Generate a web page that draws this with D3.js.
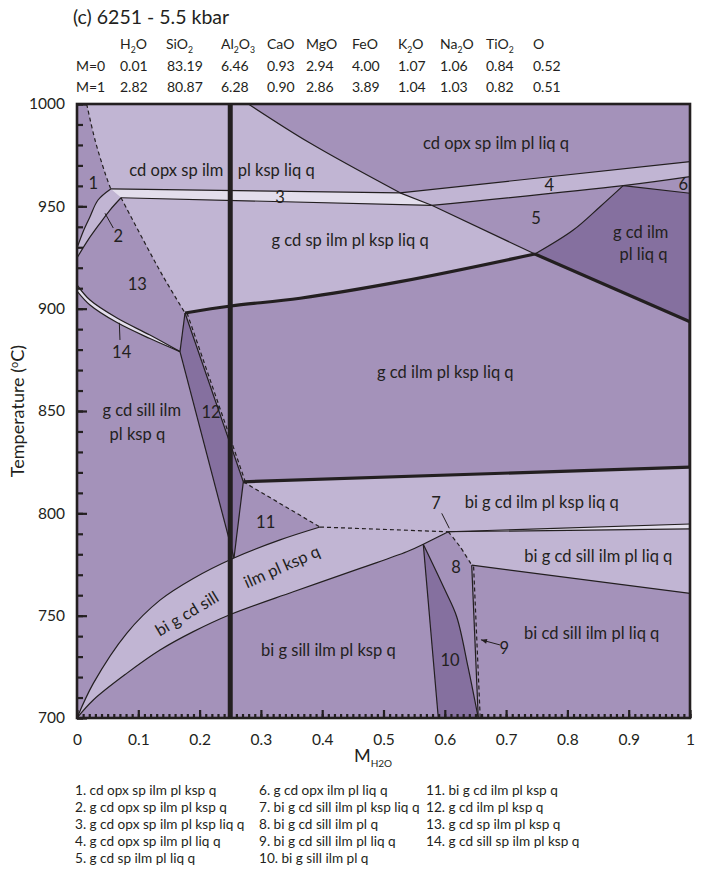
<!DOCTYPE html>
<html><head><meta charset="utf-8">
<script src="https://cdn.jsdelivr.net/npm/d3@7"></script>
<style>
body{margin:0;background:#fff}
svg{display:block}
text{font-family:Lato,"Open Sans",sans-serif;fill:#231f20}
</style>
</head><body>
<svg id="chart" width="706" height="879"></svg>
<script>
// ---------- data ----------
const title = "(c) 6251 - 5.5 kbar";
const oxides = ["H2O","SiO2","Al2O3","CaO","MgO","FeO","K2O","Na2O","TiO2","O"];
const compM0 = ["0.01","83.19","6.46","0.93","2.94","4.00","1.07","1.06","0.84","0.52"];
const compM1 = ["2.82","80.87","6.28","0.90","2.86","3.89","1.04","1.03","0.82","0.51"];
const xTickValues = [0,0.1,0.2,0.3,0.4,0.5,0.6,0.7,0.8,0.9,1];
const xTickLabels = ["0","0.1","0.2","0.3","0.4","0.5","0.6","0.7","0.8","0.9","1"];
const yTickValues = [700,750,800,850,900,950,1000];
const bulkM = 0.25;
const legendItems = [
  "1. cd opx sp ilm pl ksp q","2. g cd opx sp ilm pl ksp q","3. g cd opx sp ilm pl ksp liq q",
  "4. g cd opx sp ilm pl liq q","5. g cd sp ilm pl liq q","6. g cd opx ilm pl liq q",
  "7. bi g cd sill ilm pl ksp liq q","8. bi g cd sill ilm pl q","9. bi g cd sill ilm pl liq q",
  "10. bi g sill ilm pl q","11. bi g cd ilm pl ksp q","12. g cd ilm pl ksp q",
  "13. g cd sp ilm pl ksp q","14. g cd sill sp ilm pl ksp q"
];

// Invariant points and edge points of the phase boundaries, [M_H2O, T (°C)]
const jA=[0.0158,1000], j1=[0.055,958.5], j2=[0.0718,954.2], q1=[0.527,956.6], q2=[0.5786,950.5];
const dTop=[0.2795,1000], j5=[0.747,926.7], j6=[0.891,960.1], p13=[0.1762,897.9], p14=[0.168,879.0];
const p12a=[0.2713,815.4], p12b=[0.2561,778.2], p11=[0.3964,793.3], p7=[0.6057,791.0];
const p8=[0.5649,784.9], p9=[0.6439,774.7];
const r4=[1,971.8], r4b=[1,964.5], r6=[1,956.4], rT=[1,893.6], rB=[1,822.6];
const r7a=[1,794.8], r7b=[1,792.4], rL=[1,760.9];
const b10L=[0.5894,700], b10R=[0.6546,700], b9d=[0.6578,700];
const e2a=[0,929.6], e2b=[0,924.8], e14a=[0,911.6], e14b=[0,908.6], o0=[0,700];

// Boundary lines
const dash1=[jA,[0.0294,982.4],[0.0457,966.3],j1];
const s2out=[j1,[0.0343,953.1],[0.0212,944.9],[0.0098,937.5],e2a];
const s2in=[j2,[0.0538,948.2],[0.0375,941.7],[0.0179,933.5],e2b];
const dash2=[j2,[0.1082,933.5],[0.1408,915.6],p13];
const s3top=[j1,q1], s3bot=[j2,q2];
const diagA=[dTop,[0.3801,980.9],q1], diagB=[q1,q2], diagC=[q2,j5], diagD=[j5,rT];
const s4top=[q1,r4], s4bot=[q2,j6,r4b], r6line=[j6,r6];
const curve56=[j5,[0.8096,938.4],[0.8532,949.8],j6];
const thickA=[p13,[0.251,901.3],[0.364,905.1],[0.527,913.2],j5];
const s14top=[e14a,[0.0212,904.2],[0.0653,895.4],[0.119,887.1],p14];
const s14bot=[e14b,[0.0212,901.8],[0.0653,893.2],[0.119,885.4],p14];
const r12top=[p13,p14], r12L=[p14,p12b], r12R=[p13,p12a], r12B=[p12a,p12b];
const r12Rdash=[[0.1795,897.9],[0.2746,815.4]];
const thickB=[p12a,rB];
const dash11=[p12a,p11];
const bandTop=[o0,[0.0266,716.9],[0.0811,741.4],[0.1354,757.6],[0.1897,768.2],p12b,[0.3312,787.0],p11];
const dash7=[p11,p7];
const s7top=[p7,r7a], s7bot=[p7,r7b];
const bandBot=[o0,[0.0266,708.8],[0.0811,721.8],[0.1354,733.2],[0.1897,742.2],[0.2512,750.7],
  [0.3529,761.7],[0.4617,773.1],[0.5378,781.2],p8];
const r8top=[p8,p7];
const dash8=[p7,[0.6248,783.7],p9];
const liqLine=[p9,rL];
const r9=[p9,b10R], r9dash=[[0.6470,774.0],b9d];
const r10L=[p8,b10L], r10R=[p8,[0.6003,762.5],[0.6194,749.5],[0.6378,725.1],b10R];

// Field labels [text, M, T, rotation, anchor]
const fieldLabels = [
  ["cd opx sp ilm pl liq q",0.6835,980.9,0,"middle"],
  ["g cd sp ilm pl ksp liq q",0.4454,933.5,0,"middle"],
  ["g cd ilm",0.9196,937.6,0,"middle"],["pl liq q",0.924,926.6,0,"middle"],
  ["g cd ilm pl ksp liq q",0.4894,869.1,0,"start"],
  ["g cd sill ilm",0.1055,850.6,0,"middle"],["pl ksp q",0.0984,839.0,0,"middle"],
  ["bi g cd ilm pl ksp liq q",0.758,805.7,0,"middle"],
  ["bi g cd sill ilm pl liq q",0.8504,779.1,0,"middle"],
  ["bi cd sill ilm pl liq q",0.8396,741.7,0,"middle"],
  ["bi g sill ilm pl ksp q",0.41,733.2,0,"middle"],
  ["bi g cd sill",0.179,751.1,-31,"middle"],
  ["ilm pl ksp q",0.334,774.0,-24,"middle"],
  ["cd opx sp ilm",0.2387,967.8,0,"end"],
  ["pl ksp liq q",0.2622,967.8,0,"start"]
];
const numLabels = [
  ["1",0.0266,961.5],["2",0.0674,935.5],["3",0.3312,954.4],["4",0.7705,960.4],
  ["5",0.7488,944.2],["6",0.989,960.8],["7",0.5856,804.9],["8",0.6183,773.9],
  ["9",0.6971,734.0],["10",0.6085,728.3],["11",0.3078,795.9],["12",0.2186,849.5],
  ["13",0.0984,911.9],["14",0.0729,879.0]
];
const leaders = [
  [[0.0457,946.6],[0.0592,939.4]],
  [[0.069,893.1],[0.0701,884.7]],
  [[0.595,800.0],[0.6073,792.7]],
  [[0.690,735.7],[0.659,738.2]]
];

// ---------- layout ----------
const plot={left:77,right:690,top:104,bottom:718};
const colors={mid:"#a492ba",light:"#c1b5d3",pale:"#e3deec",dark:"#85709f",ink:"#231f20"};

const svg=d3.select("#chart");
const x=d3.scaleLinear().domain([0,1]).range([plot.left,plot.right]);
const y=d3.scaleLinear().domain([700,1000]).range([plot.bottom,plot.top]);

const line=d3.line().x(d=>x(d[0])).y(d=>y(d[1])).curve(d3.curveCatmullRom.alpha(0.5));
const rev=a=>a.slice().reverse();
const area=segs=>segs.map((s,i)=>{const d=line(s);return i?d.replace(/^M/,"L"):d;}).join("")+"Z";

svg.append("defs").append("clipPath").attr("id","plotclip")
  .append("rect").attr("x",plot.left).attr("y",plot.top)
  .attr("width",plot.right-plot.left).attr("height",plot.bottom-plot.top);

const g=svg.append("g").attr("clip-path","url(#plotclip)");
g.append("rect").attr("x",plot.left).attr("y",plot.top)
  .attr("width",plot.right-plot.left).attr("height",plot.bottom-plot.top).attr("fill",colors.mid);

const fields=[
  [colors.light,[dash1,s3top,rev(diagA),[dTop,jA]]],
  [colors.light,[s2out,[e2a,e2b],rev(s2in),[j2,j1]]],
  [colors.light,[s3bot,diagC,rev(thickA),rev(dash2)]],
  [colors.light,[s4top,[r4,r4b],rev(s4bot),rev(diagB)]],
  [colors.light,[thickB,[rB,r7a],rev(s7top),rev(dash7),rev(dash11)]],
  [colors.light,[bandTop,dash7,rev(r8top),rev(bandBot)]],
  [colors.light,[s7bot,[r7b,rL],rev(liqLine),rev(dash8)]],
  [colors.pale,[s3top,diagB,rev(s3bot),[j2,j1]]],
  [colors.pale,[s14top,rev(s14bot),[e14b,e14a]]],
  [colors.pale,[s7top,[r7a,r7b],rev(s7bot)]],
  [colors.dark,[curve56,r6line,[r6,rT],rev(diagD)]],
  [colors.dark,[r12R,r12B,rev(r12L),rev(r12top)]],
  [colors.dark,[r10R,[b10R,b10L],rev(r10L)]]
];
g.selectAll("path.field").data(fields).join("path").attr("class","field")
  .attr("d",d=>area(d[1])).attr("fill",d=>d[0]).attr("stroke","none");

const thin=[s2out,s2in,s3top,s3bot,diagA,diagB,diagC,s4top,s4bot,r6line,curve56,
  s14top,s14bot,r12top,r12L,r12R,r12B,bandTop,bandBot,s7top,s7bot,r8top,liqLine,r9,r10L,r10R];
const dashed=[dash1,dash2,dash11,dash7,dash8,r9dash,r12Rdash];
const thick=[thickA,diagD,thickB,[rT,rB]];

g.selectAll("path.thin").data(thin).join("path").attr("class","thin")
  .attr("d",line).attr("fill","none").attr("stroke",colors.ink).attr("stroke-width",1.2);
g.selectAll("path.dash").data(dashed).join("path").attr("class","dash")
  .attr("d",line).attr("fill","none").attr("stroke",colors.ink).attr("stroke-width",1.2)
  .attr("stroke-dasharray","4,3");
g.selectAll("path.thick").data(thick).join("path").attr("class","thick")
  .attr("d",line).attr("fill","none").attr("stroke",colors.ink).attr("stroke-width",3.2);

// bulk composition
g.append("line").attr("x1",x(bulkM)).attr("x2",x(bulkM)).attr("y1",plot.top).attr("y2",plot.bottom)
  .attr("stroke",colors.ink).attr("stroke-width",5);

// labels inside the diagram
g.selectAll("text.field").data(fieldLabels).join("text").attr("class","field")
  .attr("transform",d=>`translate(${x(d[1])},${y(d[2])}) rotate(${d[3]})`)
  .attr("text-anchor",d=>d[4]).attr("dominant-baseline","central")
  .style("font-size","16.5px").text(d=>d[0]);
g.selectAll("text.num").data(numLabels).join("text").attr("class","num")
  .attr("x",d=>x(d[1])).attr("y",d=>y(d[2])).attr("text-anchor","middle")
  .attr("dominant-baseline","central").style("font-size","16.5px").text(d=>d[0]);
g.selectAll("line.lead").data(leaders).join("line").attr("class","lead")
  .attr("x1",d=>x(d[0][0])).attr("y1",d=>y(d[0][1])).attr("x2",d=>x(d[1][0])).attr("y2",d=>y(d[1][1]))
  .attr("stroke",colors.ink).attr("stroke-width",1);
// arrow head on the leader of field 9
{
  const a=leaders[3], tip=[x(a[1][0]),y(a[1][1])], from=[x(a[0][0]),y(a[0][1])];
  const ang=Math.atan2(tip[1]-from[1],tip[0]-from[0]);
  const L=6, Wd=2.5;
  const p1=[tip[0]-L*Math.cos(ang)+Wd*Math.sin(ang),tip[1]-L*Math.sin(ang)-Wd*Math.cos(ang)];
  const p2=[tip[0]-L*Math.cos(ang)-Wd*Math.sin(ang),tip[1]-L*Math.sin(ang)+Wd*Math.cos(ang)];
  g.append("path").attr("d",`M${tip}L${p1}L${p2}Z`).attr("fill",colors.ink);
}

// ---------- axes ----------
const xMin=svg.append("g").attr("transform",`translate(0,${plot.bottom})`)
  .call(d3.axisBottom(x).tickValues(d3.range(0,101).map(i=>i/100)).tickSize(-4).tickFormat(""));
xMin.select(".domain").remove();
const xMaj=svg.append("g").attr("transform",`translate(0,${plot.bottom})`)
  .call(d3.axisBottom(x).tickValues(xTickValues).tickSize(-8).tickPadding(16)
    .tickFormat((d,i)=>xTickLabels[i]));
xMaj.select(".domain").remove();

const yMin=svg.append("g").attr("transform",`translate(${plot.left},0)`)
  .call(d3.axisLeft(y).tickValues(d3.range(700,1001,10)).tickSize(-6).tickFormat(""));
yMin.select(".domain").remove();
const yMaj=svg.append("g").attr("transform",`translate(${plot.left},0)`)
  .call(d3.axisLeft(y).tickValues(yTickValues).tickSize(-10).tickPadding(12).tickFormat(d3.format("d")));
yMaj.select(".domain").remove();
svg.selectAll(".tick line").attr("stroke",colors.ink).attr("stroke-width",2.2);
svg.selectAll(".tick text").style("font-family","Lato").style("font-size","15.5px").attr("fill",colors.ink);

// frame
svg.append("rect").attr("x",plot.left).attr("y",plot.top)
  .attr("width",plot.right-plot.left).attr("height",plot.bottom-plot.top)
  .attr("fill","none").attr("stroke",colors.ink).attr("stroke-width",2.6);

// axis titles
const xt=svg.append("text").attr("x",373).attr("y",762).attr("text-anchor","middle").style("font-size","18px");
xt.append("tspan").text("M");
xt.append("tspan").attr("dy",5).style("font-size","10px").text("H2O");

const yt=svg.append("text").attr("transform",`translate(24,${(plot.top+plot.bottom)/2}) rotate(-90)`)
  .attr("text-anchor","middle").style("font-size","18px");
yt.append("tspan").text("Temperature (");
yt.append("tspan").attr("dy",-6).style("font-size","11px").text("o");
yt.append("tspan").attr("dy",6).text("C)");

// ---------- title and composition table ----------
svg.append("text").attr("x",73).attr("y",24).style("font-size","19.5px").text(title);

function chem(sel,str,size){
  const parts=str.match(/[A-Za-z]+|\d+/g);
  let shifted=false;
  parts.forEach(p=>{
    const t=sel.append("tspan").text(p);
    if(/\d/.test(p)){t.attr("dy",4).style("font-size",(size*0.62)+"px");shifted=true;}
    else if(shifted){t.attr("dy",-4);shifted=false;}
  });
}
const colX=[120,166,221,267,306,352,398,440,486,533];
oxides.forEach((ox,i)=>{
  const t=svg.append("text").attr("x",colX[i]).attr("y",49).style("font-size","14px");
  chem(t,ox,14);
});
svg.append("text").attr("x",76).attr("y",71).style("font-size","14px").text("M=0");
svg.append("text").attr("x",76).attr("y",92).style("font-size","14px").text("M=1");
compM0.forEach((v,i)=>svg.append("text").attr("x",colX[i]+(i===1?1:0)).attr("y",71).style("font-size","14px").text(v));
compM1.forEach((v,i)=>svg.append("text").attr("x",colX[i]+(i===1?1:0)).attr("y",92).style("font-size","14px").text(v));

// ---------- legend ----------
const legCols=[75,259,426];
const legRows=[795,812,829,846,863];
legendItems.forEach((s,i)=>{
  const c=Math.floor(i/5), r=i%5;
  svg.append("text").attr("x",legCols[c]).attr("y",legRows[r]).style("font-size","13.6px").text(s);
});
</script>
</body></html>
